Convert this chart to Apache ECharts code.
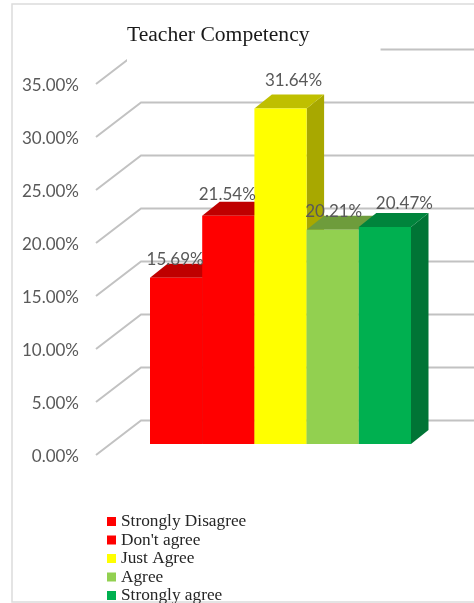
<!DOCTYPE html>
<html>
<head>
<meta charset="utf-8">
<style>html,body{margin:0;padding:0;background:#fff}#c{width:474px;height:603px}</style>
<script src="https://cdn.jsdelivr.net/npm/echarts@6/dist/echarts.min.js"></script>
</head>
<body>
<div id="c"></div>
<script>
const titleText = 'Teacher Competency';
const categories = ['Strongly Disagree', "Don't agree", 'Just Agree', 'Agree', 'Strongly agree'];
const values = [15.69, 21.54, 31.64, 20.21, 20.47];
const yTicks = [0, 5, 10, 15, 20, 25, 30, 35];

const barColors = ['#ff0000', '#ff0000', '#ffff00', '#92d050', '#00b050'];
const labelShift = [[-1, -18], [-1, -21], [13, -28], [1, -18], [19.5, -24]];

const FLOOR_DX = 45, FLOOR_DY = -34.5;     // depth of the whole plot
const TICK_DY = -2;                        // tick lines sit just above their label centres
const FRONT_DY = -13;                      // bars stand slightly behind the axis plane
const BAR_DX = 17.5, BAR_DY = -14;         // depth of one bar
const LABEL_FONT = '17px Lato';

function shade(hex, f) {
  const n = parseInt(hex.slice(1), 16);
  const c = [n >> 16, (n >> 8) & 255, n & 255].map(v => Math.round(v * f));
  return 'rgb(' + c.join(',') + ')';
}

const gridSeries = {
  type: 'custom',
  name: 'walls',
  silent: true,
  z: 1,
  data: yTicks.map(t => [0, t]),
  encode: { x: 0, y: 1 },
  renderItem(params, api) {
    const y = api.coord([0, api.value(1)])[1] + TICK_DY;
    const left = 96, rightEnd = 480;
    return {
      type: 'polyline',
      shape: { points: [[left, y], [left + FLOOR_DX, y + FLOOR_DY], [rightEnd, y + FLOOR_DY]] },
      style: { stroke: '#c2c2c2', lineWidth: 2, fill: null }
    };
  }
};

const barSeries = categories.map((name, i) => ({
  type: 'custom',
  name,
  z: 2,
  itemStyle: { color: barColors[i] },
  data: [[i, values[i]]],
  encode: { x: 0, y: 1 },
  renderItem(params, api) {
    const idx = api.value(0), val = api.value(1);
    const bw = api.size([1, 0])[0];
    const top = api.coord([idx, val]);
    const base = api.coord([idx, 0]);
    const x0 = top[0] - bw / 2, x1 = top[0] + bw / 2;
    const yt = top[1] + FRONT_DY, yb = base[1] + FRONT_DY;
    const c = barColors[i];
    return {
      type: 'group',
      children: [
        { type: 'polygon', shape: { points: [[x1, yt], [x1 + BAR_DX, yt + BAR_DY], [x1 + BAR_DX, yb + BAR_DY], [x1, yb]] },
          style: { fill: shade(c, 0.66) } },
        { type: 'polygon', shape: { points: [[x0, yt], [x1, yt], [x1 + BAR_DX, yt + BAR_DY], [x0 + BAR_DX, yt + BAR_DY]] },
          style: { fill: shade(c, 0.75) } },
        { type: 'rect', shape: { x: x0, y: yt, width: bw, height: yb - yt },
          style: { fill: c } },
        { type: 'text', z2: 100,
          style: { x: top[0] + labelShift[i][0], y: yt + labelShift[i][1], text: val.toFixed(2) + '%',
                   fill: '#595959', font: LABEL_FONT, align: 'center', verticalAlign: 'middle' } }
      ]
    };
  }
}));

const chart = echarts.init(document.getElementById('c'));
chart.setOption({
  animation: false,
  backgroundColor: '#fff',
  title: {
    text: titleText,
    left: 127, top: 8,
    padding: [16, 71, 16, 0],
    backgroundColor: '#fff',
    textStyle: { fontFamily: 'Liberation Serif', fontSize: 21.6, fontWeight: 'normal', color: '#1a1a1a' }
  },
  legend: {
    data: categories,
    orient: 'vertical',
    left: 107, top: 513, height: 130,
    padding: 0,
    icon: 'rect',
    itemWidth: 9, itemHeight: 9,
    itemGap: 1.5,
    selectedMode: false,
    textStyle: { fontFamily: 'Liberation Serif', fontSize: 17.3, color: '#262626' }
  },
  grid: { left: 150, width: 261, top: 86, height: 371 },
  xAxis: { type: 'category', data: categories, show: false },
  yAxis: {
    type: 'value', min: 0, max: 35, interval: 5,
    axisLine: { show: false }, axisTick: { show: false }, splitLine: { show: false },
    axisLabel: { margin: 71, color: '#595959', fontFamily: 'Lato', fontSize: 17,
                 formatter: v => v.toFixed(2) + '%' }
  },
  graphic: [{
    type: 'rect', z: 0, silent: true,
    shape: { x: 12, y: 4, width: 480, height: 598 },
    style: { fill: null, stroke: '#dcdcdc', lineWidth: 1.5 }
  }],
  series: [gridSeries].concat(barSeries)
});
</script>
</body>
</html>
